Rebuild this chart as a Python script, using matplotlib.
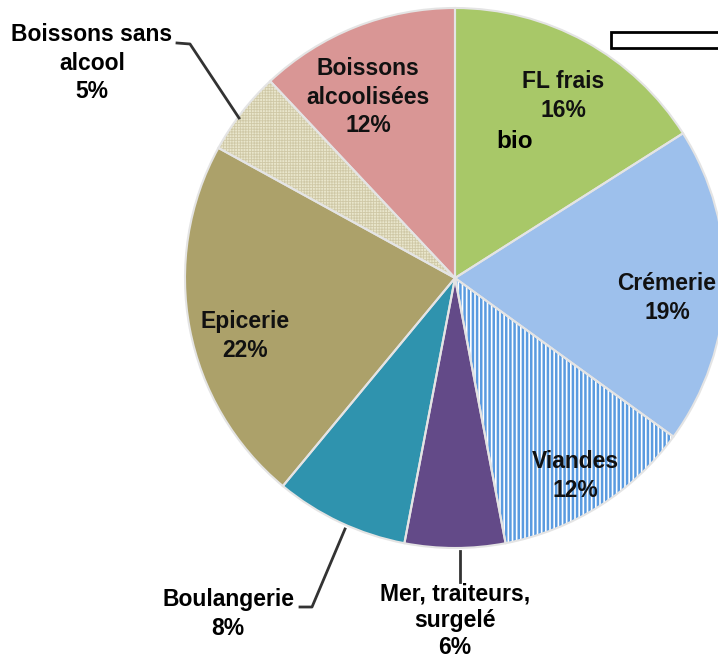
import matplotlib
matplotlib.use("Agg")
import matplotlib.pyplot as plt

categories = ["FL frais", "Crémerie", "Viandes", "Mer, traiteurs,\nsurgelé",
              "Boulangerie", "Epicerie", "Boissons sans\nalcool", "Boissons\nalcoolisées"]
shares = [16, 19, 12, 6, 8, 22, 5, 12]
colors = ["#A8C868", "#9DC0EC", "#FFFFFF", "#634A88", "#2F93AE", "#ACA16A", "#E9E6CC", "#D99695"]
hatches = [None, None, "||||", None, None, None, "++++++", None]
hatch_colors = [None, None, "#5A9BE0", None, None, None, "#CFC8A6", None]

W, H = 718, 661
fig = plt.figure(figsize=(W / 100, H / 100), dpi=100)
ax = fig.add_axes([0, 0, 1, 1])

cx, cy, R = 455, H - 278, 270
plt.rcParams["hatch.linewidth"] = 1.8
wedges, _ = ax.pie(shares, colors=colors, startangle=90, counterclock=False,
                   center=(cx, cy), radius=R, wedgeprops=dict(linewidth=0))
for w, h, hc in zip(wedges, hatches, hatch_colors):
    if h:
        w.set_edgecolor(hc)
        w.set_linewidth(0)
        w.set_hatch(h)
        if hasattr(w, "set_hatch_linewidth"):
            w.set_hatch_linewidth(1.8 if h.startswith("|") else 0.6)
# outlines
ax.pie(shares, startangle=90, counterclock=False, center=(cx, cy), radius=R,
       colors=["none"] * len(shares),
       wedgeprops=dict(edgecolor="#E4E4E4", linewidth=1.5, fill=False))

ax.set_xlim(0, W)
ax.set_ylim(0, H)
ax.set_aspect("equal")
ax.axis("off")

fs = 16.5
fam = ["Liberation Sans", "DejaVu Sans"]

def lab(i):
    return f"{categories[i]}\n{shares[i]}%"

inside = {0: (563, 96), 1: (667, 298), 2: (575, 476), 5: (245, 336), 7: (368, 97)}
for i, (x, y) in inside.items():
    ax.text(x, H - y, lab(i), ha="center", va="center", fontsize=fs,
            fontweight="bold", family=fam, color="#111111", linespacing=1.3)

outside = {6: (92, 63), 4: (228, 614), 3: (455, 621)}
for i, (x, y) in outside.items():
    ax.text(x, H - y, lab(i), ha="center", va="center", fontsize=fs,
            fontweight="bold", family=fam, color="#000000",
            linespacing=1.22 if i == 3 else 1.3)

# leader lines
lc = "#333333"
ax.plot([177, 190, 239], [H - 43, H - 44, H - 118], color=lc, lw=2)
ax.plot([300, 312, 345], [H - 607, H - 607, H - 529], color=lc, lw=2)
ax.plot([460, 460], [H - 551, H - 582], color=lc, lw=2)

# extra text and box
ax.text(515, H - 142, "bio", ha="center", va="center", fontsize=17.5,
        fontweight="bold", family=fam, color="#000000")
ax.add_patch(plt.Rectangle((611, H - 48), 120, 16, facecolor="white",
                           edgecolor="black", linewidth=2, clip_on=True))

fig.savefig("out.png", dpi=100)
